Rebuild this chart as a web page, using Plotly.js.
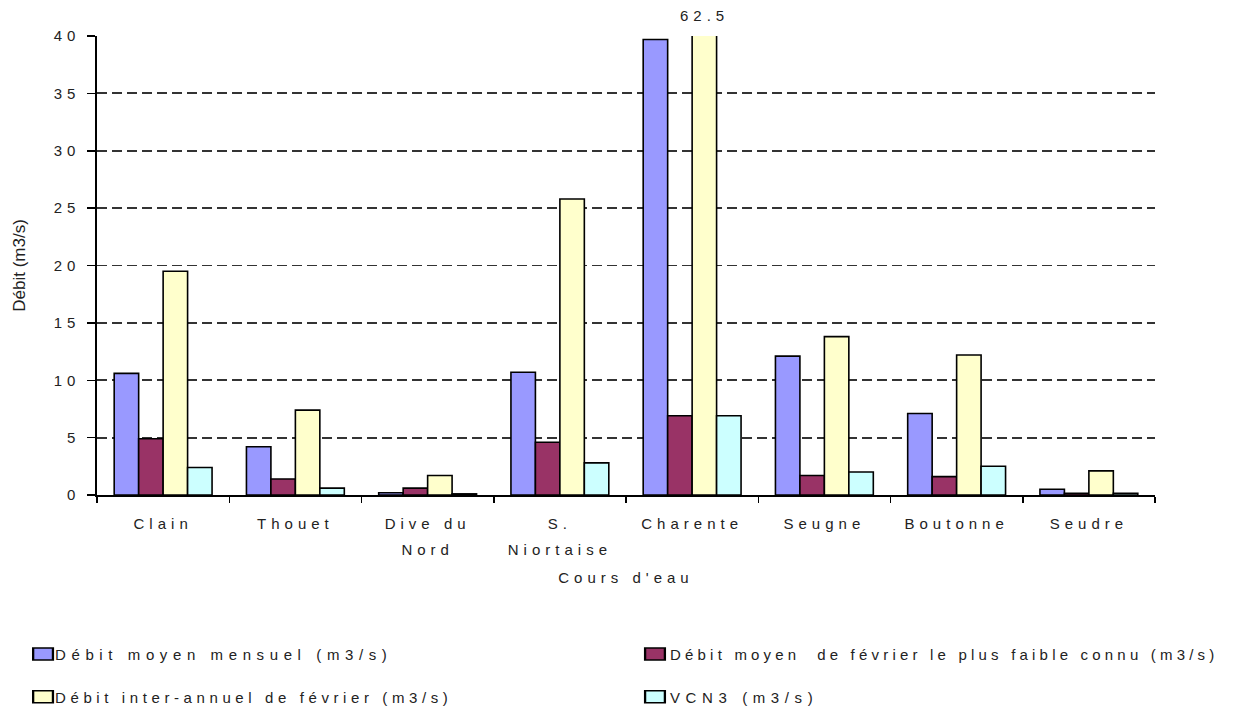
<!DOCTYPE html>
<html>
<head>
<meta charset="utf-8">
<script src="https://cdn.plot.ly/plotly-3.0.1.min.js"></script>
<style>
  html, body { margin: 0; padding: 0; background: #fff; }
  #chart { width: 1239px; height: 708px; }
  .xtick text, .ytick text, .annotation-text, .xtitle { letter-spacing: 5px; }
  .legendtext { letter-spacing: 5.6px; }
  .legend2text { letter-spacing: 4.2px; }
  .legend3text { letter-spacing: 4.6px; }
  .legend4text { letter-spacing: 5.6px; }
</style>
</head>
<body>
<div id="chart"></div>
<script>
const categories = ['Clain', 'Thouet', 'Dive du<br>Nord', 'S.<br>Niortaise', 'Charente', 'Seugne', 'Boutonne', 'Seudre'];
const debitMoyenMensuel = [10.6, 4.2, 0.2, 10.7, 39.7, 12.1, 7.1, 0.5];
const debitFevrierPlusFaible = [4.9, 1.4, 0.6, 4.6, 6.9, 1.7, 1.6, 0.15];
const debitInterAnnuelFevrier = [19.5, 7.4, 1.7, 25.8, 62.5, 13.8, 12.2, 2.1];
const vcn3 = [2.4, 0.6, 0.1, 2.8, 6.9, 2.0, 2.5, 0.15];
const seriesNames = [
  'Débit moyen mensuel (m3/s)',
  'Débit moyen  de février le plus faible connu (m3/s)',
  'Débit inter-annuel de février (m3/s)',
  'VCN3 (m3/s)'
];
const yTickVals = [0, 5, 10, 15, 20, 25, 30, 35, 40];

const colors = ['#9999FF', '#993366', '#FFFFCC', '#CCFFFF'];
const seriesValues = [debitMoyenMensuel, debitFevrierPlusFaible, debitInterAnnuelFevrier, vcn3];
const legendIds = ['legend', 'legend2', 'legend3', 'legend4'];
const font = 'Liberation Sans, Arial, sans-serif';
const bargap = 0.26;

const traces = seriesValues.map((vals, i) => ({
  type: 'bar',
  name: seriesNames[i],
  x: categories,
  y: vals,
  legend: legendIds[i],
  marker: { color: colors[i], line: { color: '#000', width: 1.6 } },
  hoverinfo: 'skip'
}));

// label for the clipped Charente bar (3rd series of 4 in the group)
const idx = categories.indexOf('Charente');
const groupW = 1 - bargap;
const clippedOffset = -groupW / 2 + groupW / 4 * 2.5;

function legendBox(x, y) {
  return {
    orientation: 'h', x: x, xanchor: 'left', y: y, yanchor: 'middle',
    font: { family: font, size: 15, color: '#222' },
    itemwidth: 30, bgcolor: 'rgba(0,0,0,0)'
  };
}
const colLeft = -0.0699, colRight = 0.5085, rowTop = -0.347, rowBottom = -0.440;

const layout = {
  width: 1239, height: 708,
  margin: { l: 97, r: 84, t: 36, b: 213, autoexpand: false },
  paper_bgcolor: '#fff', plot_bgcolor: '#fff',
  font: { family: font, size: 15, color: '#222' },
  barmode: 'group', bargap: bargap, bargroupgap: 0,
  showlegend: true,
  xaxis: {
    type: 'category',
    tickson: 'boundaries',
    ticks: 'outside', ticklen: 6, tickwidth: 1.5, tickcolor: '#000',
    showline: true, linecolor: '#000', linewidth: 1.6,
    showgrid: false, zeroline: false,
    tickfont: { family: font, size: 15, color: '#222' },
    ticklabelstandoff: 14,
    title: { text: "Cours d'eau", font: { family: font, size: 15, color: '#222' }, standoff: 22 },
    automargin: false,
    fixedrange: true
  },
  yaxis: {
    range: [0, 40],
    tickvals: yTickVals,
    ticks: 'outside', ticklen: 8, tickwidth: 1.5, tickcolor: '#000',
    showline: true, linecolor: '#000', linewidth: 1.6,
    showgrid: true, gridcolor: '#333', gridwidth: 1.8, griddash: '10px,5px',
    zeroline: false,
    tickfont: { family: font, size: 15, color: '#222' },
    ticklabelstandoff: 4,
    title: { text: 'Débit (m3/s)', font: { family: font, size: 17, color: '#222' }, standoff: 24 },
    automargin: false,
    fixedrange: true
  },
  legend: legendBox(colLeft, rowTop),
  legend2: legendBox(colRight, rowTop),
  legend3: legendBox(colLeft, rowBottom),
  legend4: legendBox(colRight, rowBottom),
  annotations: [{
    x: idx + clippedOffset, xref: 'x', y: 40, yref: 'y',
    yanchor: 'bottom', yshift: 10, showarrow: false,
    text: String(debitInterAnnuelFevrier[idx]),
    font: { family: font, size: 15, color: '#222' }
  }]
};

Plotly.newPlot('chart', traces, layout, { displayModeBar: false, staticPlot: true }).then(gd => {
  // wider line spacing for two-line category labels
  gd.querySelectorAll('.xtick text tspan.line').forEach(t => {
    const dy = t.getAttribute('dy');
    if (dy && parseFloat(dy) > 0) t.setAttribute('dy', '1.75em');
  });
  // text right next to a wide legend key, as in the reference
  const textX = { legend: 32, legend2: 35, legend3: 32, legend4: 35 };
  Object.keys(textX).forEach(id => {
    gd.querySelectorAll('.' + id + 'text').forEach(t => t.setAttribute('x', textX[id]));
  });
  gd.querySelectorAll('.legendpoints path').forEach(p => {
    const tr = p.getAttribute('transform') || '';
    p.setAttribute('transform', (tr + ' scale(1.65,1)').trim());
    p.style.strokeWidth = '1.4px';
  });
});
</script>
</body>
</html>
